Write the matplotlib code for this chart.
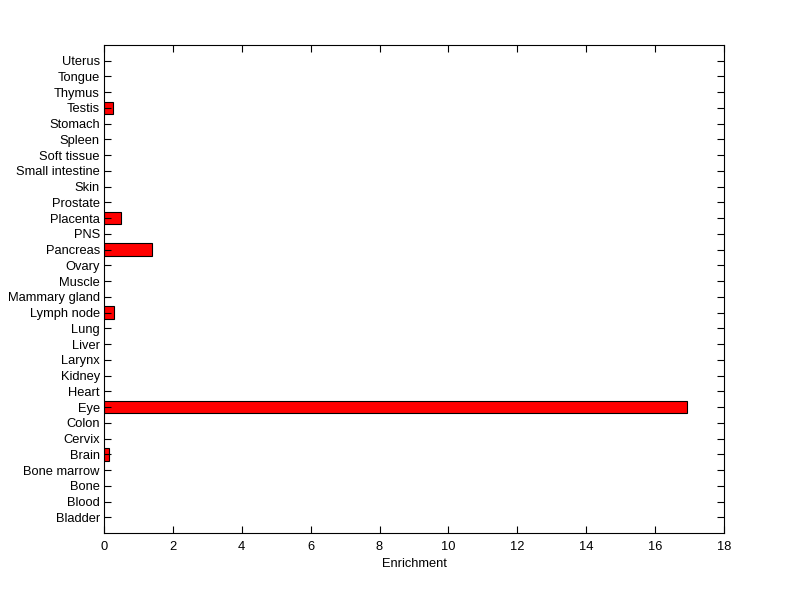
import matplotlib
matplotlib.use("Agg")
import matplotlib.pyplot as plt

tissues = ["Bladder", "Blood", "Bone", "Bone marrow", "Brain", "Cervix", "Colon",
           "Eye", "Heart", "Kidney", "Larynx", "Liver", "Lung", "Lymph node",
           "Mammary gland", "Muscle", "Ovary", "Pancreas", "PNS", "Placenta",
           "Prostate", "Skin", "Small intestine", "Soft tissue", "Spleen",
           "Stomach", "Testis", "Thymus", "Tongue", "Uterus"]
enrichment = [0, 0, 0, 0, 0.15, 0, 0,
              16.93, 0, 0, 0, 0, 0, 0.29,
              0, 0, 0, 1.38, 0, 0.5,
              0, 0, 0, 0, 0,
              0, 0.27, 0, 0, 0]
xticks = [0, 2, 4, 6, 8, 10, 12, 14, 16, 18]

plt.rcParams["font.family"] = ["Liberation Sans", "DejaVu Sans"]

fig = plt.figure(figsize=(8, 5.99), dpi=100)
ax = fig.add_axes([0.13, 0.11, 0.775, 0.815])

pos = list(range(1, len(tissues) + 1))
lw = [0.8 if v > 0 else 0 for v in enrichment]
ax.barh(pos, enrichment, height=0.8, color="#ff0000", edgecolor="black", linewidth=lw)

ax.set_xlim(0, 18)
ax.set_ylim(0, len(tissues) + 1)
ax.set_xticks(xticks)
ax.set_yticks(pos)
ax.set_yticklabels(tissues)
ax.tick_params(direction="in", top=True, right=True, length=5, width=0.8,
               labelsize=9.3, colors="black", pad=3)
ax.tick_params(axis="x", pad=6)
for s in ax.spines.values():
    s.set_linewidth(0.8)
ax.set_xlabel("Enrichment", fontsize=9.3, labelpad=3)

fig.savefig("out.png", dpi=100, facecolor="white")
